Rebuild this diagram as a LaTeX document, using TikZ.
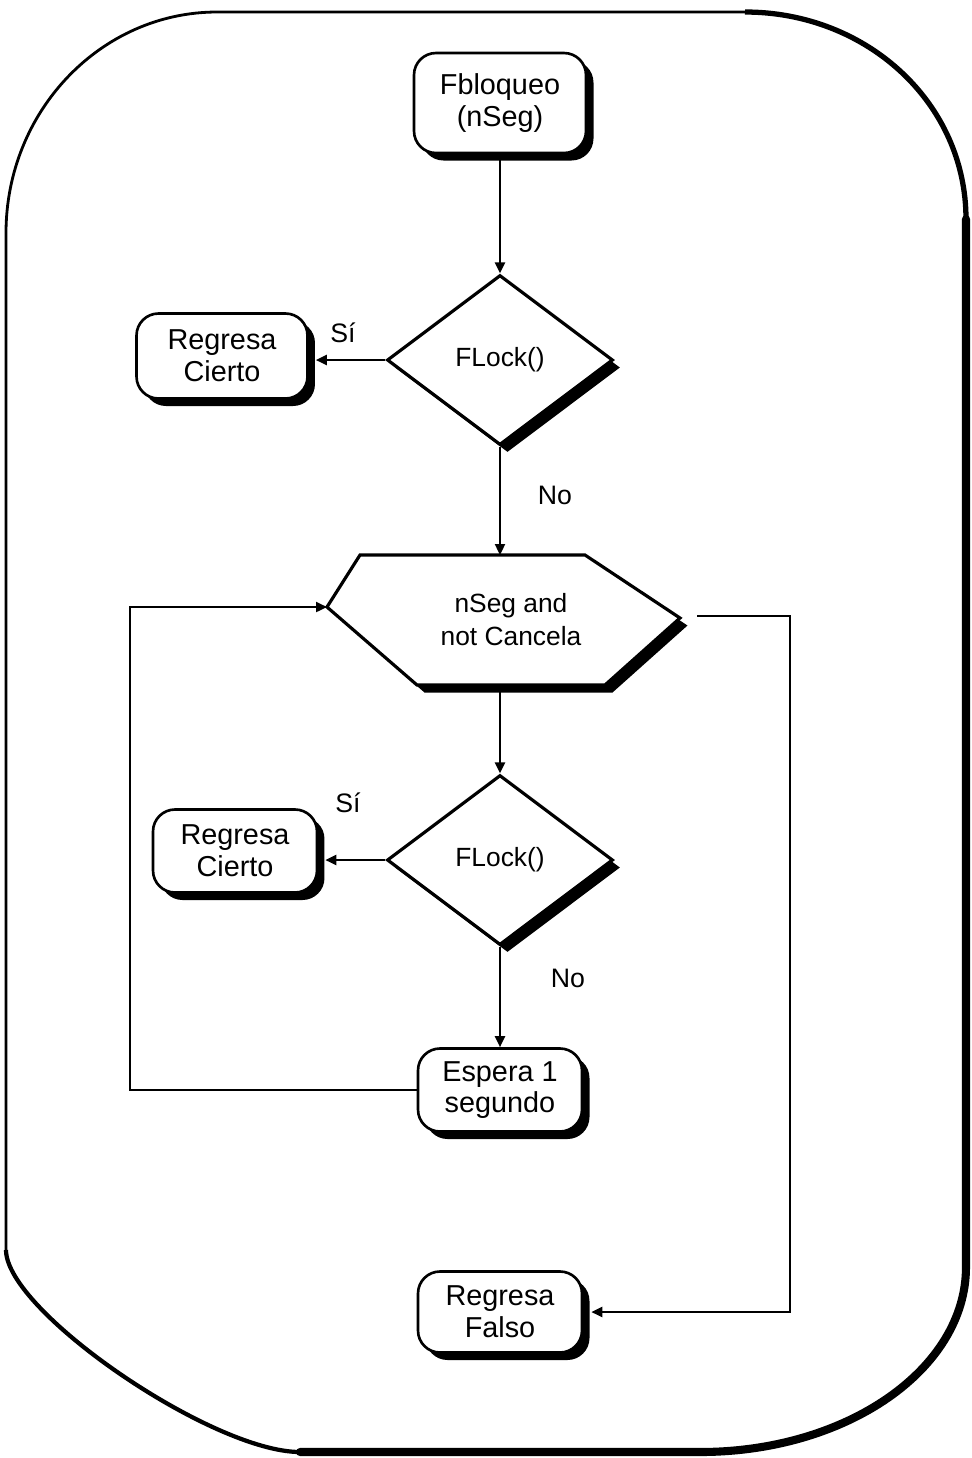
\documentclass[tikz,border=0pt]{standalone}
\usepackage{fontspec}
\setmainfont{Liberation Sans}
\usetikzlibrary{shapes.geometric,shadows,arrows.meta}

\begin{document}
\begin{tikzpicture}[x=0.1mm, y=-0.1mm, >={Triangle[length=1.1mm, width=1mm]},
    dropblack/.style={drop shadow={shadow xshift=0.75mm, shadow yshift=-0.75mm,
                      fill=black, opacity=1}},
    box/.style={draw, line width=0.75pt, fill=white, rounded corners=2.2mm,
                align=center, inner sep=0pt, minimum width=16.4mm,
                minimum height=8.3mm, font=\fontsize{8.2}{9}\selectfont, dropblack},
    test/.style={diamond, draw, line width=0.9pt, fill=white, inner sep=0pt,
                 minimum width=22.6mm, minimum height=17mm,
                 font=\fontsize{7.5}{9}\selectfont, dropblack},
    lbl/.style={font=\fontsize{7.6}{9}\selectfont},
    flow/.style={->, line width=0.65pt}]
  \useasboundingbox (0,0) rectangle (972,1458);
  \draw[line width=0.8pt] (6,233) .. controls (6,111) and (101,12) .. (217,12)
        -- (745,12) .. controls (867,12) and (966,103) .. (966,219)
        -- (966,1267) .. controls (966,1369) and (847,1452) .. (700,1452)
        -- (300,1452) .. controls (212,1452) and (6,1311) .. (6,1250) -- cycle;
  \draw[line width=1.5pt] (745,12) .. controls (867,12) and (966,103) .. (966,219);
  \draw[line width=2.3pt, line cap=round] (966,219) -- (966,1267)
        .. controls (966,1369) and (847,1452) .. (700,1452) -- (300,1452);
  \draw[line width=1.2pt] (300,1452) .. controls (212,1452) and (6,1311) .. (6,1250);

  \filldraw[fill=white, line width=0.9pt, dropblack]
        (360,555) -- (585,555) -- (680,618) -- (605,685) -- (417,685) -- (327,607) -- cycle;
  \node[align=center, font=\fontsize{7.5}{9.4}\selectfont] (cond) at (511,620)
        {nSeg and\\not Cancela};
  \coordinate (hexn) at (500,555);
  \coordinate (hexs) at (500,685);
  \coordinate (hexw) at (327,607);
  \coordinate (hexe) at (697,616);

  \node[box, minimum width=17.2mm, minimum height=10mm] (start) at (500,103)
        {Fbloqueo\\(nSeg)};
  \node[test] (lock1) at (500,360) {FLock()};
  \node[box, minimum width=17.1mm, minimum height=8.5mm] (yes1) at (222,356)
        {Regresa\\Cierto};
  \node[test] (lock2) at (500,860) {FLock()};
  \node[box] (yes2) at (235,851) {Regresa\\Cierto};
  \node[box] (wait) at (500,1090) {Espera 1\\segundo};
  \node[box, minimum height=8.1mm] (fail) at (500,1312) {Regresa\\Falso};

  \node[lbl] (si1) at (343,333) {Sí};
  \node[lbl] (no1) at (555,495) {No};
  \node[lbl] (si2) at (348,803) {Sí};
  \node[lbl] (no2) at (568,978) {No};

  \coordinate (loopl) at (130,607);
  \coordinate (loopr) at (790,616);

  \draw[flow] (start) -- (lock1);
  \draw[flow] (lock1.west) -- ([xshift=0.7mm]lock1.west -| yes1.east);
  \draw[flow] (lock1) -- (hexn);
  \draw[flow] (hexs) -- (lock2);
  \draw[flow] (lock2.west) -- ([xshift=0.7mm]lock2.west -| yes2.east);
  \draw[flow] (lock2) -- (wait);
  \draw[flow] (wait.west) -| (loopl) -- (hexw);
  \draw[flow] (hexe) -- (loopr) |- ([xshift=0.8mm]fail.east);
\end{tikzpicture}
\end{document}
